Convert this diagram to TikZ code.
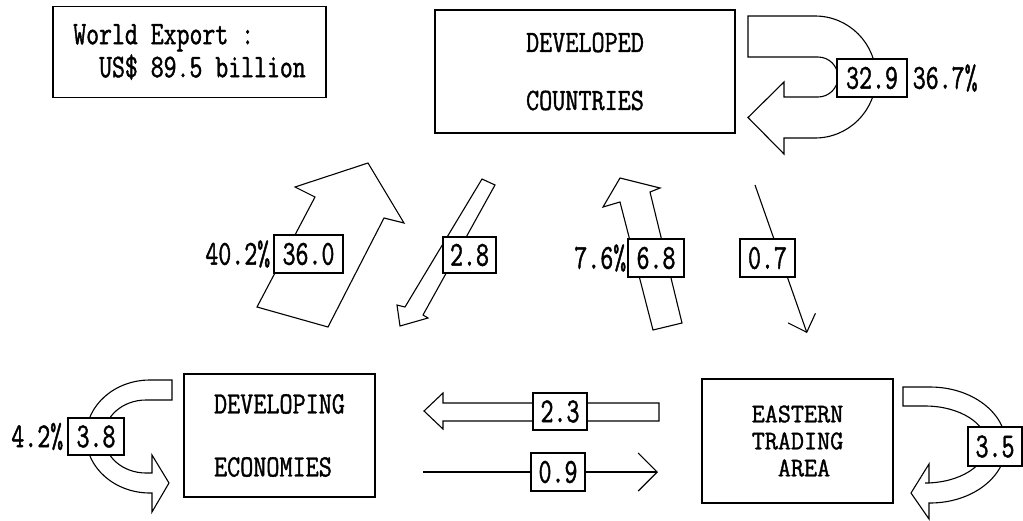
\documentclass[tikz,border=0pt]{standalone}
\usepackage{fontspec}
\usetikzlibrary{arrows.meta}
% condensed serif typewriter faces for names and for figures
\newfontfamily\regfont[FakeStretch=0.82, FakeBold=1.2]{Latin Modern Mono}
\newfontfamily\eastfont[FakeStretch=0.94, FakeBold=1.2]{Latin Modern Mono}
\newfontfamily\numfont[FakeStretch=0.72, FakeBold=1.2]{Latin Modern Mono}
\newfontfamily\totfont[FakeStretch=0.76, FakeBold=1.2]{Latin Modern Mono}
\begin{document}
\begin{tikzpicture}[x=1pt,y=-1pt,
  region/.style={draw, line width=1.3pt, inner sep=0pt},
  val/.style={draw, fill=white, line width=1.1pt, inner sep=0pt,
    font=\numfont\fontsize{35}{35}\selectfont},
  pct/.style={inner sep=0pt, font=\numfont\fontsize{35}{35}\selectfont},
  flow/.style={draw, fill=white, line width=1.1pt, line join=miter},
  lineflow/.style={line width=1.1pt}]
\useasboundingbox (0,0) rectangle (1023,520);
\fill[white] (0,0) rectangle (1023,520);

% total
\node[region, minimum width=273pt, minimum height=91pt, align=left,
  font=\totfont\fontsize{33}{33}\selectfont] (world) at (189.5,52)
  {World Export :\\\hphantom{WW}US\$ 89.5 billion};

% regions
\node[region, minimum width=300pt, minimum height=123pt, align=center,
  font=\regfont\fontsize{31}{58}\selectfont] (dev) at (585,71.5)
  {DEVELOPED\\COUNTRIES};
\node[region, minimum width=191pt, minimum height=123pt, align=left,
  font=\regfont\fontsize{31}{63}\selectfont] (devg) at (279.5,435.5)
  {DEVELOPING\\ECONOMIES};
\node[region, minimum width=191pt, minimum height=124pt, align=left,
  font=\eastfont\fontsize{27}{27}\selectfont] (east) at (797.5,441)
  {EASTERN\\TRADING\\\hphantom{AA}AREA};

% trade within developed countries
\draw[flow] (748,16) -- (815,16) arc[start angle=270, end angle=450, radius=61]
  -- (784,138) -- (784,154) -- (748,117.5) -- (784,82) -- (784,97) -- (818,97)
  arc[start angle=90, end angle=-90, radius=20] -- (748,57) -- cycle;

% trade within developing economies
\draw[flow] (172,380) -- (150,380)
  arc[start angle=270, end angle=90, x radius=64, y radius=56.5]
  -- (152,493) -- (152,512) -- (169,483) -- (152,455) -- (152,473) -- (146,473)
  arc[start angle=90, end angle=270, x radius=42, y radius=36.5]
  -- (172,400) -- cycle;

% trade within the eastern trading area
\draw[flow] (903,387) -- (930,387)
  arc[start angle=270, end angle=450, x radius=76, y radius=58]
  -- (929,503) -- (929,519) -- (911,493) -- (929,464) -- (929,483) -- (925,483)
  arc[start angle=90, end angle=-90, x radius=62, y radius=38.5]
  -- (903,406) -- cycle;

% developing -> developed
\draw[flow] (257,307) -- (315,197) -- (295,187) -- (368,163) -- (404,223)
  -- (384,218) -- (328,327) -- cycle;
% developed -> developing
\draw[flow] (482,179) -- (495,185) -- (423,315) -- (428,318) -- (400,326)
  -- (397,305) -- (405,307) -- cycle;
% eastern -> developed
\draw[flow] (653,330) -- (682,323) -- (650,192) -- (660,188) -- (620,178)
  -- (603,207) -- (620,202) -- cycle;
% eastern -> developing
\draw[flow] (659,403) -- (443,403) -- (443,393) -- (424,411) -- (443,429)
  -- (443,421) -- (659,421) -- cycle;

% developed -> eastern
\coordinate (c07s) at (755,185);
\coordinate (c07t) at (807,333);
\draw[lineflow, -{Straight Barb[length=15pt, width=29pt, line width=1.1pt]}] (c07s) -- (c07t);

% values
\node[val, minimum width=70pt, minimum height=38pt] (b329) at (872,78) {32.9};
\node[pct, anchor=west] (p329) at ([xshift=5pt]b329.east) {36.7\%};
\node[val, minimum width=69pt, minimum height=38pt] (b360) at (308.5,254) {36.0};
\node[pct, anchor=east] (p360) at ([xshift=-3pt]b360.west) {40.2\%};
\node[val, minimum width=53pt, minimum height=36pt] (b28) at (469.5,255) {2.8};
\node[val, minimum width=56pt, minimum height=38pt] (b68) at (656,258) {6.8};
\node[pct, anchor=east] (p68) at ([xshift=-1pt]b68.west) {7.6\%};
\node[val, minimum width=55pt, minimum height=38pt] (b07) at (767.5,258) {0.7};
\node[val, minimum width=56pt, minimum height=37pt] (b38) at (96,436.5) {3.8};
\node[pct, anchor=east] (p38) at ([xshift=-4pt]b38.west) {4.2\%};
\node[val, minimum width=54pt, minimum height=37pt] (b23) at (560,411.5) {2.3};
\node[val, minimum width=54pt, minimum height=38pt] (b09) at (558,472) {0.9};
\node[val, minimum width=54pt, minimum height=39pt] (b35) at (995,446.5) {3.5};

% developing -> eastern
\coordinate (c09s) at (423,472);
\coordinate (c09t) at (658,472);
\draw[lineflow] (c09s) -- (b09.west);
\draw[lineflow, -{Straight Barb[length=19pt, width=38pt, line width=1.1pt]}] (b09.east) -- (c09t);
\end{tikzpicture}
\end{document}
